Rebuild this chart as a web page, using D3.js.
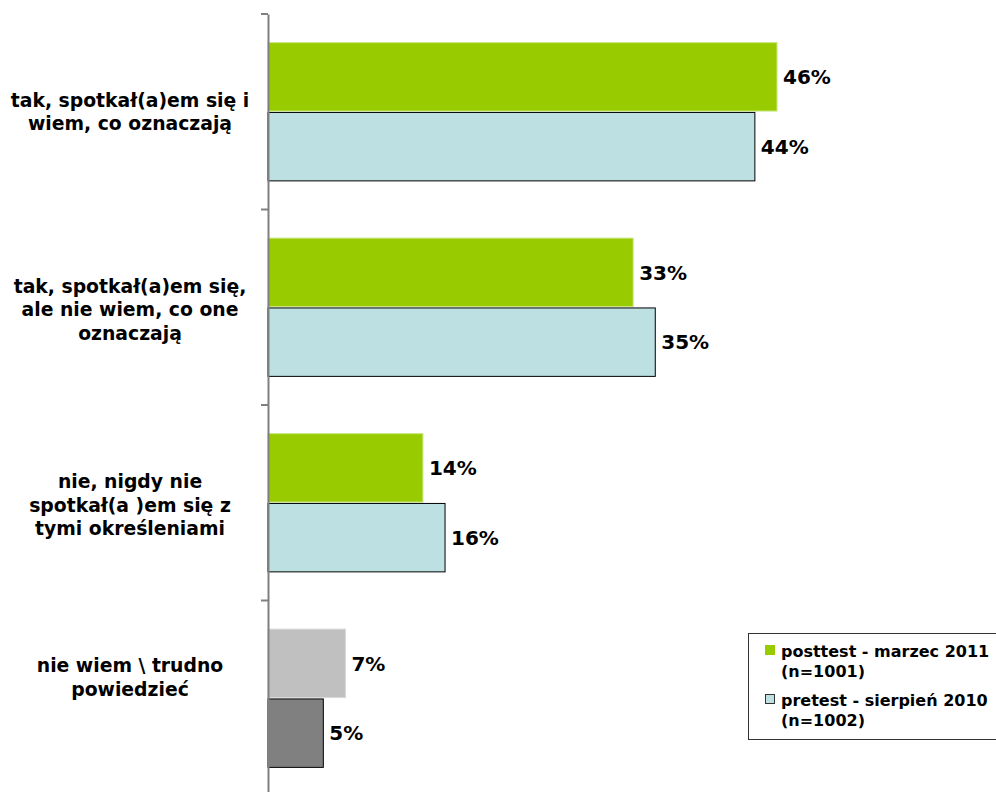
<!DOCTYPE html>
<html><head><meta charset="utf-8">
<script src="https://cdn.jsdelivr.net/npm/d3@7/dist/d3.min.js"></script>
<style>body{margin:0;background:#fff;} svg{display:block;}</style>
</head><body>
<svg id="chart" width="996" height="792"></svg>
<script>
const categories = [
  ["tak, spotkał(a)em się i", "wiem, co oznaczają"],
  ["tak, spotkał(a)em się,", "ale nie wiem, co one", "oznaczają"],
  ["nie, nigdy nie", "spotkał(a )em się z", "tymi określeniami"],
  ["nie wiem \\ trudno", "powiedzieć"]
];
const seriesNames = ["posttest - marzec 2011", "pretest - sierpień 2010"];
const seriesN = ["(n=1001)", "(n=1002)"];
const posttest = [46, 33, 14, 7];
const pretest = [44, 35, 16, 5];

const svg = d3.select("#chart");
const font = "'DejaVu Sans', Verdana, sans-serif";
const x0 = 268;
const x = d3.scaleLinear().domain([0, 46]).range([x0, 777]);
const y = d3.scaleBand().domain(d3.range(categories.length)).range([14, 796]).paddingInner(0).paddingOuter(0);
const ys = d3.scaleBand().domain([0, 1]).range([0, y.bandwidth()]).paddingInner(0.02).paddingOuter(0.41);

const fills = [
  i => i === 3 ? "#C0C0C0" : "#99CC00",
  i => i === 3 ? "#808080" : "#BDE0E3"
];
const strokes = [
  i => i === 3 ? "#D8D8D8" : "#C8E680",
  i => "#000"
];
const data = [posttest, pretest];

data.forEach((vals, s) => {
  svg.append("g").selectAll("rect").data(vals).join("rect")
    .attr("x", x(0))
    .attr("y", (d, i) => y(i) + ys(s))
    .attr("width", d => x(d) - x(0))
    .attr("height", ys.bandwidth())
    .attr("fill", (d, i) => fills[s](i))
    .attr("stroke", (d, i) => strokes[s](i))
    .attr("stroke-width", 1);
  svg.append("g").selectAll("text").data(vals).join("text")
    .attr("x", d => x(d) + 6)
    .attr("y", (d, i) => y(i) + ys(s) + ys.bandwidth() / 2)
    .attr("dy", "0.36em")
    .attr("font-family", font).attr("font-weight", "bold").attr("font-size", 20)
    .attr("fill", "#000")
    .text(d => d + "%");
});

// axis
const axis = d3.axisLeft(y).tickValues([]).tickSizeOuter(0);
const ag = svg.append("g").attr("transform", `translate(${x0},0)`).call(axis);
ag.select(".domain").attr("stroke", "#808080").attr("stroke-width", 2);
const tickPos = d3.range(categories.length + 1).map(i => i < categories.length ? y(i) : y.range()[1]);
svg.append("g").selectAll("line").data(tickPos).join("line")
  .attr("x1", x0 - 7).attr("x2", x0).attr("y1", d => d).attr("y2", d => d)
  .attr("stroke", "#808080").attr("stroke-width", 2);

// category labels
const lh = 23.5;
const labelShift = [0, 2, 2, -21];
categories.forEach((lines, i) => {
  const cy = y(i) + y.bandwidth() / 2 + labelShift[i];
  const t = svg.append("text")
    .attr("font-family", font).attr("font-weight", "bold").attr("font-size", 18.8)
    .attr("text-anchor", "middle").attr("fill", "#000");
  lines.forEach((ln, k) => {
    t.append("tspan").attr("x", 130)
      .attr("y", cy + (k - (lines.length - 1) / 2) * lh)
      .attr("dy", "0.36em").text(ln);
  });
});

// legend
const lg = svg.append("g");
lg.append("rect").attr("x", 748.5).attr("y", 633.5).attr("width", 260).attr("height", 106)
  .attr("fill", "#fff").attr("stroke", "#333").attr("stroke-width", 1);
const legFill = ["#99CC00", "#BDE0E3"];
const legStroke = ["#99CC00", "#333"];
seriesNames.forEach((nm, s) => {
  const by = 651 + s * 49;
  lg.append("rect").attr("x", 765.5).attr("y", by - 5.5).attr("width", 9).attr("height", 9)
    .attr("fill", legFill[s]).attr("stroke", legStroke[s]).attr("stroke-width", 1);
  const t = lg.append("text").attr("font-family", font).attr("font-weight", "bold")
    .attr("font-size", 16).attr("fill", "#000");
  t.append("tspan").attr("x", 781).attr("y", by).attr("dy", "0.36em").text(nm);
  t.append("tspan").attr("x", 781).attr("y", by + 20).attr("dy", "0.36em").text(seriesN[s]);
});
</script>
</body></html>
